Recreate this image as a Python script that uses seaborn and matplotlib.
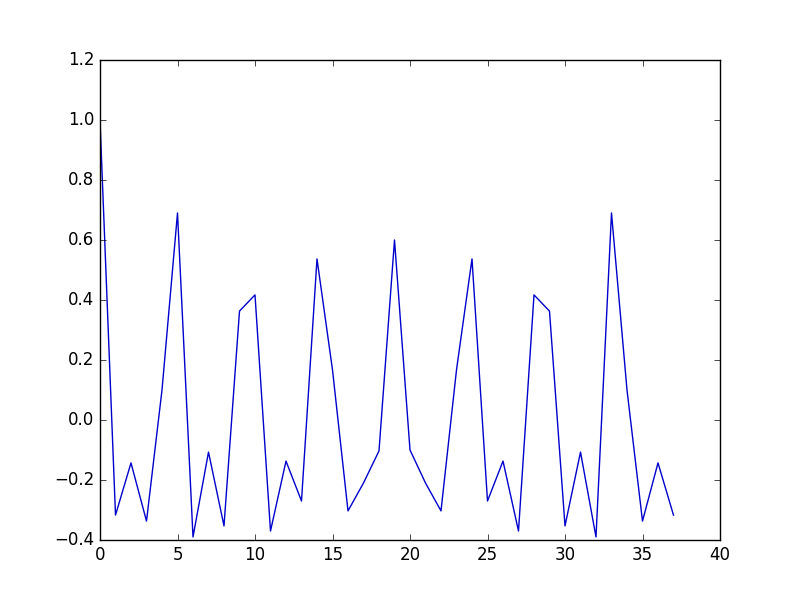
import numpy as np
import pandas as pd
import matplotlib
matplotlib.use("Agg")
import matplotlib.pyplot as plt
import seaborn as sns

plt.style.use('classic')

lags = list(range(38))
acf = [1.0, -0.317, -0.143, -0.337, 0.1, 0.69, -0.39, -0.107, -0.353, 0.363,
       0.417, -0.37, -0.137, -0.27, 0.537, 0.167, -0.303, -0.21, -0.103, 0.6,
       -0.1, -0.21, -0.303, 0.167, 0.537, -0.27, -0.137, -0.37, 0.417, 0.363,
       -0.353, -0.107, -0.39, 0.69, 0.1, -0.337, -0.143, -0.317]

df = pd.DataFrame({'lag': lags, 'acf': acf})

fig, ax = plt.subplots(figsize=(8, 6), dpi=100)
sns.lineplot(data=df, x='lag', y='acf', ax=ax, color='#0000cc', linewidth=1)
ax.set_xlim(0, 40)
ax.set_ylim(-0.4, 1.2)
ax.set_xlabel('')
ax.set_ylabel('')
fig.savefig('out.png')
